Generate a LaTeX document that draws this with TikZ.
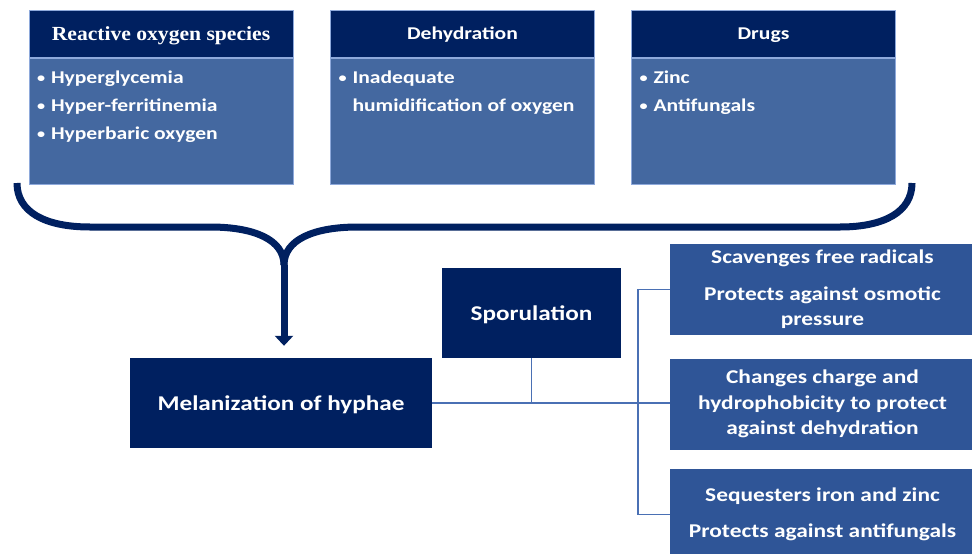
\documentclass[tikz,border=0pt]{standalone}
\usepackage{fontspec}
\usepackage{graphicx}
\setmainfont{Carlito}[FakeStretch=1.2]
\newfontfamily\timesfont{Liberation Serif}[FakeStretch=1.08]
\usetikzlibrary{positioning,arrows.meta}
\definecolor{navy}{HTML}{002060}
\definecolor{midblue}{HTML}{4468A0}
\definecolor{boxblue}{HTML}{2F5597}
\definecolor{edgeblue}{HTML}{8EA9DB}
\definecolor{lineblue}{HTML}{4A70B4}
\newcommand{\itm}{\makebox[14pt][l]{\raisebox{0.5pt}{\scalebox{0.75}{\textbullet}}}}
\newcommand{\bulletbox}[1]{\parbox[t][110pt][t]{248pt}{\rule{0pt}{17pt}#1}}
\begin{document}
\begin{tikzpicture}[x=1pt, y=-1pt, node distance=0pt,
    head/.style = {draw=edgeblue, line width=1pt, fill=navy, text=white, minimum width=264pt, minimum height=47pt, inner sep=0pt, text depth=0pt, font=\bfseries\fontsize{18}{22}\selectfont},
    body/.style = {draw=edgeblue, line width=1pt, fill=midblue, text=white, inner sep=8pt, font=\bfseries\fontsize{18}{28}\selectfont},
    dark/.style = {fill=navy, text=white, inner sep=0pt, text depth=0pt, font=\bfseries\fontsize{21}{24}\selectfont},
    side/.style = {fill=boxblue, text=white, minimum width=305pt, minimum height=91pt, inner sep=0pt, align=center, font=\bfseries\fontsize{19.5}{25.5}\selectfont},
    link/.style = {draw=lineblue, line width=1.5pt},
    brace/.style = {draw=navy, line width=7pt}]
    \useasboundingbox (0,0) rectangle (972,554);
    % top boxes
    \node[head] (ros) at (161,33.5) {\timesfont\bfseries\fontsize{20}{24}\selectfont Reactive oxygen species};
    \node[body, below=of ros] (rosb) {\bulletbox{\itm Hyperglycemia\\\itm Hyper-ferritinemia\\\itm Hyperbaric oxygen}};
    \node[head] (dehyd) at (462.5,33.5) {Dehydration};
    \node[body, below=of dehyd] (dehydb) {\bulletbox{\itm Inadequate\\\hspace*{14pt}humidification of oxygen}};
    \node[head] (drugs) at (763.5,33.5) {Drugs};
    \node[body, below=of drugs] (drugsb) {\bulletbox{\itm Zinc\\\itm Antifungals}};
    % middle
    \node[dark, minimum width=302pt, minimum height=90pt] (mel) at (281,403) {Melanization of hyphae};
    \node[dark, minimum width=179pt, minimum height=90pt] (spo) at (531.5,313) {Sporulation};
    % right boxes
    \node[side] (rad) at (822.5,289.5) {Scavenges free radicals\\[11pt]Protects against osmotic\\pressure};
    \node[side] (chg) at (822.5,404) {Changes charge and\\hydrophobicity to protect\\against dehydration};
    \node[side] (seq) at (822.5,514.5) {Sequesters iron and zinc\\[10pt]Protects against antifungals};
    % brace
    \coordinate (bl) at (17,183);
    \coordinate (br) at (912,183);
    \coordinate (fork) at (284,265);
    \draw[brace] (bl) .. controls (17,212) and (45,227) .. (90,227) -- (210,227) .. controls (255,227) and (284,240) .. (fork);
    \draw[brace] (br) .. controls (912,212) and (884,227) .. (840,227) -- (358,227) .. controls (313,227) and (284,240) .. (fork);
    \draw[brace, -{Triangle[width=18pt,length=10pt]}, shorten >=12pt] (fork) -- (fork |- mel.north);
    % links
    \coordinate (trunk) at (638,403);
    \draw[link] (mel.east) -- (mel.east -| chg.west);
    \draw[link] (spo.south) -- (spo.south |- mel.east);
    \draw[link] (rad.west) -| (trunk) |- (seq.west);
\end{tikzpicture}
\end{document}
